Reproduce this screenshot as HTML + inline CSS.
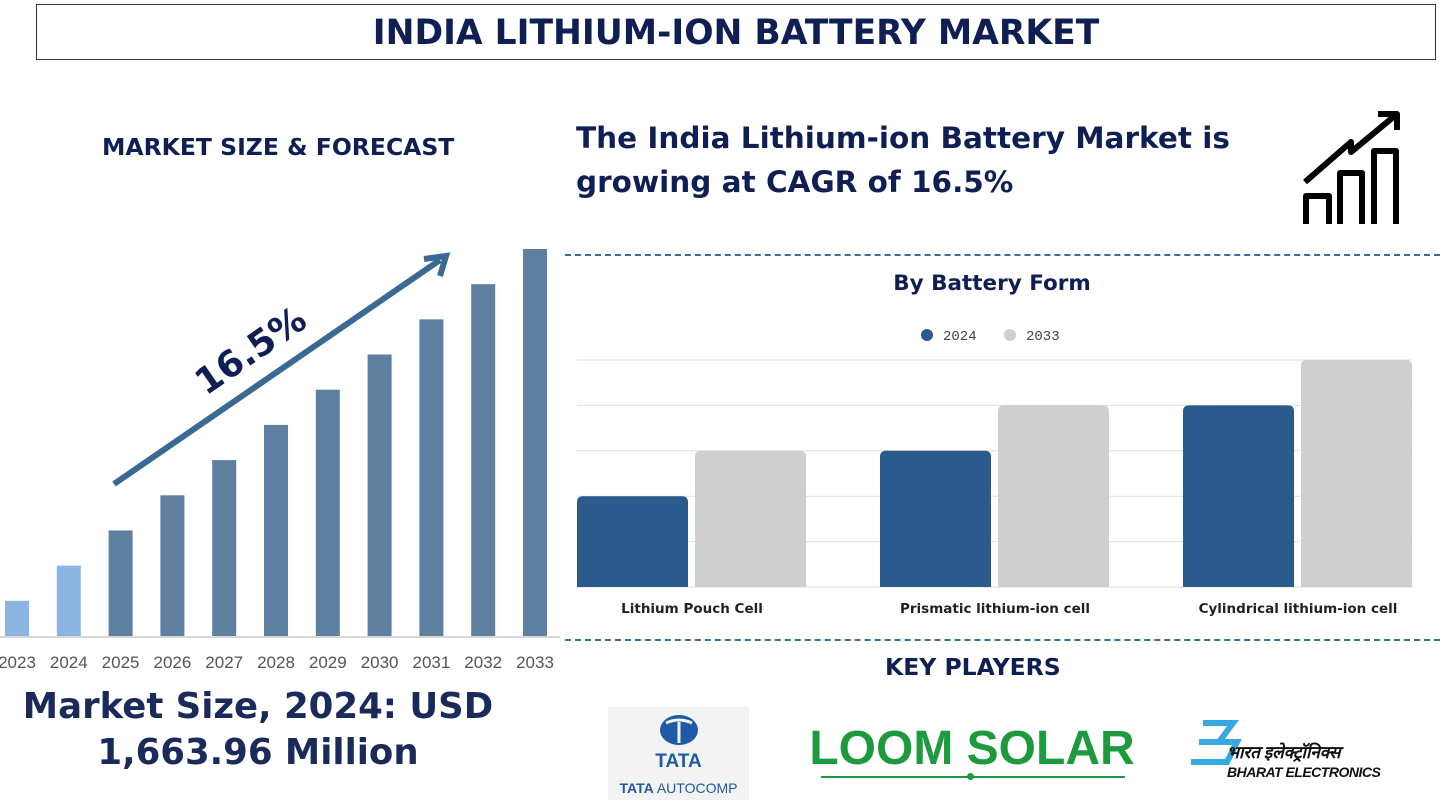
<!DOCTYPE html>
<html><head><meta charset="utf-8">
<style>
body{margin:0;width:1456px;height:809px;background:#fff;font-family:"Liberation Sans","DejaVu Sans",sans-serif;overflow:hidden;position:relative}
.abs{position:absolute}
.dv{font-family:"DejaVu Sans","Liberation Sans",sans-serif;font-weight:bold}
</style></head>
<body>
<div class="abs dv" style="left:36px;top:4px;width:1400px;height:56px;border:1.5px solid #333;box-sizing:border-box;text-align:center;font-size:34.5px;line-height:56px;color:#0f1f54;white-space:nowrap">INDIA LITHIUM-ION BATTERY MARKET</div>
<div class="abs dv" style="left:102px;top:133px;font-size:23.5px;color:#0f1f54;white-space:nowrap">MARKET SIZE &amp; FORECAST</div>
<div class="abs dv" style="left:576px;top:116px;font-size:29.5px;line-height:44px;color:#0f1f54;white-space:nowrap">The India Lithium-ion Battery Market is<br>growing at CAGR of 16.5%</div>
<svg class="abs" style="left:1280px;top:100px" width="140" height="140">
<g fill="none" stroke="#000" stroke-width="6" stroke-linejoin="round">
<path d="M26 124 V96 H49 V124"/><path d="M60 124 V73 H82 V124"/><path d="M94 124 V51 H116 V124"/>
<path d="M25 82 L71 42 L71 52 L117 14"/><path d="M98 14 H117 V30"/></g></svg>
<div class="abs" style="left:565px;top:254px;width:875px;border-top:2px dashed #3a6e9a"></div>
<div class="abs" style="left:565px;top:639px;width:875px;border-top:2px dashed #3a6e9a"></div>
<div class="abs dv" style="left:885px;top:653px;font-size:23.5px;color:#0f1f54;white-space:nowrap">KEY PLAYERS</div>
<div class="abs dv" style="left:0;top:684px;width:516px;text-align:center;font-size:35.5px;line-height:46px;color:#1a2a5a;white-space:nowrap">Market Size, 2024: USD<br>1,663.96 Million</div>
<svg class="abs" id="left" style="left:0;top:0" width="560" height="690"></svg>
<svg class="abs" id="right" style="left:560px;top:260px" width="890" height="370"></svg>
<div class="abs" style="left:608px;top:707px;width:141px;height:93px;background:#f3f3f3;text-align:center;color:#1f5aa6">
<svg width="40" height="34" style="margin-top:6px"><ellipse cx="20" cy="17" rx="19" ry="15" fill="#1f5aa6"/><path d="M7 10 Q20 4 33 10 M20 9 V30" stroke="#f3f3f3" stroke-width="3" fill="none"/></svg>
<div style="font-weight:bold;font-size:19px;line-height:20px">TATA</div>
<div style="font-size:14px;margin-top:8px"><b>TATA</b> AUTOCOMP</div></div>
<div class="abs" style="left:806px;top:721px;width:332px;text-align:center;font-size:48px;font-weight:bold;color:#1e9a3e;font-family:'Liberation Sans Narrow','Liberation Sans',sans-serif;white-space:nowrap">LOOM SOLAR</div>
<div class="abs" style="left:821px;top:776px;width:304px;border-top:2px solid #1e9a3e"></div>
<div class="abs" style="left:967px;top:773px;width:7px;height:7px;border-radius:50%;background:#1e9a3e"></div>
<div class="abs" style="left:1183px;top:712px;width:230px;height:90px;color:#111;font-style:italic;white-space:nowrap">
<svg class="abs" style="left:6px;top:8px" width="70" height="50"><path d="M14 3 H44 L30 22 H10 M30 22 H48 L38 42 H2" stroke="#35a9e0" stroke-width="6" fill="none"/></svg>
<div class="abs" style="left:44px;top:26px;font-size:17px;font-weight:bold;font-family:'Noto Sans CJK SC',sans-serif">भारत इलेक्ट्रॉनिक्स</div>
<div class="abs" style="left:44px;top:52px;font-size:14px;font-weight:bold;letter-spacing:-0.5px">BHARAT ELECTRONICS</div></div>
<script>
const years=['2023','2024','2025','2026','2027','2028','2029','2030','2031','2032','2033'];
const sizes=[1.0,2.0,3.0,4.0,5.0,6.0,7.0,8.0,9.0,10.0,11.0];
const forms=['Lithium Pouch Cell','Prismatic lithium-ion cell','Cylindrical lithium-ion cell'];
const v2024=[2,3,4];
const v2033=[3,4,5];
const NS='http://www.w3.org/2000/svg';
function mk(p,t,a){const e=document.createElementNS(NS,t);for(const k in a)e.setAttribute(k,a[k]);p.appendChild(e);return e;}
const L=document.getElementById('left');
const base=636,yS=v=>base-v*(387/11),xS=i=>5+i*51.8;
mk(L,'line',{x1:0,y1:base+1,x2:560,y2:base+1,stroke:'#ccc','stroke-width':1.5});
years.forEach((y,i)=>{
 const r=mk(L,'rect',{x:xS(i),y:yS(sizes[i]),width:24,height:base-yS(sizes[i]),fill:i<2?'#8bb5e0':'#5e7fa0'});
 
 
 const t=mk(L,'text',{x:xS(i)+12,y:668,'text-anchor':'middle','font-size':17,fill:'#555'});t.textContent=y;
 
 
});
const ar=mk(L,'g',{});


mk(ar,'line',{x1:114,y1:484,x2:440,y2:260,stroke:'#3a6a94','stroke-width':6});
mk(ar,'path',{d:'M424 259 L446 256 L440 276',stroke:'#3a6a94','stroke-width':6,fill:'none'});
const ct=mk(ar,'text',{x:0,y:0,transform:'translate(206,396) rotate(-34.5)','font-size':36,'font-weight':'bold','font-family':'DejaVu Sans,sans-serif',fill:'#0f1f54'});ct.textContent='16.5%';
const R=document.getElementById('right');
const rb=327,ryS=v=>rb-v*45.4,gx=i=>17+i*303;
const tt=mk(R,'text',{x:432,y:30,'text-anchor':'middle','font-size':21.5,'font-weight':'bold','font-family':'DejaVu Sans,sans-serif',fill:'#0f1f54'});tt.textContent='By Battery Form';


[[367,'#2b5b8c','2024'],[450,'#cfcfcf','2033']].forEach(([x,c,l])=>{
 const g=mk(R,'g',{});
 
 
 mk(g,'circle',{cx:x,cy:75,r:6,fill:c});
 const t=mk(g,'text',{x:x+16,y:80,'font-size':14,fill:'#444','font-family':'Liberation Mono,monospace'});t.textContent=l;
});
[0,1,2,3,4,5].forEach(v=>mk(R,'line',{x1:17,x2:853,y1:ryS(v),y2:ryS(v),stroke:'#ddd','stroke-width':1}));
function bar(x,v,c,n){const y=ryS(v),r=6;
 const p=mk(R,'path',{d:`M${x} ${rb} V${y+r} Q${x} ${y} ${x+r} ${y} H${x+111-r} Q${x+111} ${y} ${x+111} ${y+r} V${rb} Z`,fill:c});
 
 }
forms.forEach((f,i)=>{
 bar(gx(i),v2024[i],'#2b5b8c','bar-2024-'+i);
 bar(gx(i)+118,v2033[i],'#cfcfcf','bar-2033-'+i);
 const t=mk(R,'text',{x:gx(i)+115,y:353,'text-anchor':'middle','font-size':13.5,'font-weight':'bold','font-family':'DejaVu Sans,sans-serif',fill:'#222'});t.textContent=f;
 
 
});
</script>
</body></html>
